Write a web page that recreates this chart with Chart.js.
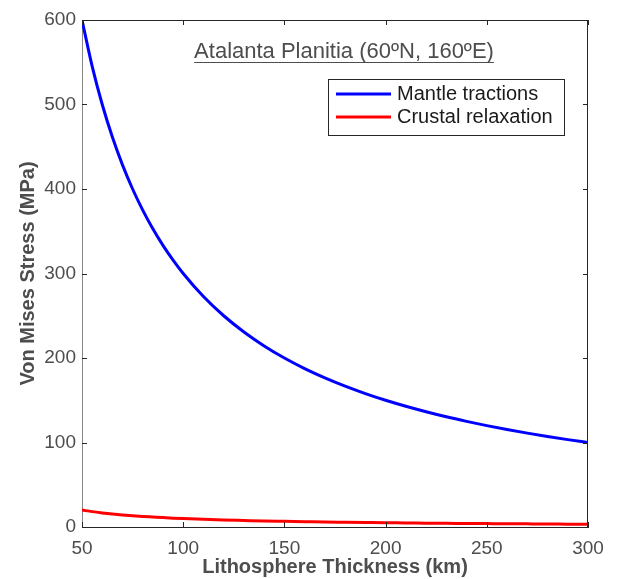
<!DOCTYPE html>
<html>
<head>
<meta charset="utf-8">
<script src="https://cdn.jsdelivr.net/npm/chart.js@4.4.0/dist/chart.umd.min.js"></script>
<style>
body { margin: 0; background: #fff; }
canvas { display: block; }
</style>
</head>
<body>
<canvas id="stress-chart" width="617" height="579"></canvas>
<script>
// values (km / MPa)
const thickness = [50, 55, 60, 65, 70, 75, 80, 85, 90, 95, 100, 110, 120, 130, 140, 150, 160, 170, 180, 190, 200, 210, 220, 230, 240, 250, 260, 270, 280, 290, 300];
const mantleStress = [600, 545.5, 500, 461.5, 428.6, 400, 375, 352.9, 333.3, 315.8, 300, 272.7, 250, 230.8, 214.3, 200, 187.5, 176.5, 166.7, 157.9, 150, 142.9, 136.4, 130.4, 125, 120, 115.4, 111.1, 107.1, 103.4, 100];
const crustalStress = [20, 18.2, 16.7, 15.4, 14.3, 13.3, 12.5, 11.8, 11.1, 10.5, 10, 9.1, 8.3, 7.7, 7.1, 6.7, 6.3, 5.9, 5.6, 5.3, 5, 4.8, 4.5, 4.3, 4.2, 4, 3.8, 3.7, 3.6, 3.4, 3.3];
const xTicks = [50, 100, 150, 200, 250, 300];
const yTicks = [0, 100, 200, 300, 400, 500, 600];
const seriesNames = ['Mantle tractions', 'Crustal relaxation'];
const seriesColors = ['#0000ff', '#ff0000'];
const plotTitle = 'Atalanta Planitia (60ºN, 160ºE)';

const fontFamily = 'Helvetica, "Liberation Sans", Arial, sans-serif';
const axisColor = '#262626';
const labelColor = '#4d4d4d';

//turns two arrays into the {x, y} points chart.js wants
function toPoints(xs, ys) {
    return xs.map((x, i) => ({ x: x, y: ys[i] }));
}

//draws the matlab style box, inward ticks, the underlined title and the boxed legend
const matlabBox = {
    id: 'matlabBox',
    afterDraw(chart) {
        const ctx = chart.ctx;
        const area = chart.chartArea;
        const xs = chart.scales.x;
        const ys = chart.scales.y;
        ctx.save();
        // top and right edges of the box
        ctx.strokeStyle = axisColor;
        ctx.lineWidth = 1;
        ctx.beginPath();
        ctx.moveTo(area.left, area.top + 0.5);
        ctx.lineTo(area.right, area.top + 0.5);
        ctx.moveTo(area.right - 0.5, area.top);
        ctx.lineTo(area.right - 0.5, area.bottom);
        ctx.stroke();
        // inward ticks on all four sides
        const len = 5;
        ctx.beginPath();
        xTicks.forEach(v => {
            const px = Math.round(xs.getPixelForValue(v)) + 0.5;
            ctx.moveTo(px, area.bottom);
            ctx.lineTo(px, area.bottom - len);
            ctx.moveTo(px, area.top);
            ctx.lineTo(px, area.top + len);
        });
        yTicks.forEach(v => {
            const py = Math.round(ys.getPixelForValue(v)) + 0.5;
            ctx.moveTo(area.left, py);
            ctx.lineTo(area.left + len, py);
            ctx.moveTo(area.right, py);
            ctx.lineTo(area.right - len, py);
        });
        ctx.stroke();

        // title inside the plot, underlined
        ctx.font = '22px ' + fontFamily;
        ctx.fillStyle = labelColor;
        ctx.textAlign = 'center';
        ctx.textBaseline = 'middle';
        const tx = 344, ty = 52;
        ctx.fillText(plotTitle, tx, ty);
        const tw = ctx.measureText(plotTitle).width;
        ctx.strokeStyle = labelColor;
        ctx.beginPath();
        ctx.moveTo(tx - tw / 2, ty + 10.5);
        ctx.lineTo(tx + tw / 2, ty + 10.5);
        ctx.stroke();

        // legend box
        const box = { left: 328, top: 79, width: 236, height: 56 };
        ctx.fillStyle = '#fff';
        ctx.fillRect(box.left, box.top, box.width, box.height);
        ctx.strokeStyle = axisColor;
        ctx.strokeRect(box.left + 0.5, box.top + 0.5, box.width, box.height);
        ctx.textAlign = 'left';
        ctx.font = '20px ' + fontFamily;
        chart.data.datasets.forEach((ds, i) => {
            const rowY = 94 + i * 23;
            ctx.strokeStyle = ds.borderColor;
            ctx.lineWidth = 3;
            ctx.beginPath();
            ctx.moveTo(336, rowY);
            ctx.lineTo(391, rowY);
            ctx.stroke();
            ctx.fillStyle = '#1a1a1a';
            ctx.fillText(ds.label, 397, rowY);
        });
        ctx.restore();
    }
};

const stressChart = new Chart(document.getElementById('stress-chart'), {
    type: 'line',
    data: {
        datasets: [{
            label: seriesNames[0],
            data: toPoints(thickness, mantleStress),
            borderColor: seriesColors[0],
            borderWidth: 3,
            pointRadius: 0,
            cubicInterpolationMode: 'monotone',
            fill: false
        }, {
            label: seriesNames[1],
            data: toPoints(thickness, crustalStress),
            borderColor: seriesColors[1],
            borderWidth: 3,
            pointRadius: 0,
            cubicInterpolationMode: 'monotone',
            fill: false
        }]
    },
    options: {
        responsive: false,
        animation: false,
        layout: { padding: { top: 20, right: 29, bottom: 0, left: 0 } },
        plugins: {
            legend: { display: false },
            tooltip: { enabled: false }
        },
        scales: {
            x: {
                type: 'linear',
                min: 50,
                max: 300,
                afterBuildTicks: scale => { scale.ticks = xTicks.map(v => ({ value: v })); },
                afterFit: scale => { scale.height = 52; },
                grid: { display: false, drawTicks: false },
                border: { display: true, color: axisColor, width: 1 },
                ticks: {
                    padding: 10,
                    maxRotation: 0,
                    color: labelColor,
                    font: { family: fontFamily, size: 19 }
                },
                title: {
                    display: true,
                    text: 'Lithosphere Thickness (km)',
                    color: labelColor,
                    padding: { top: 0, bottom: 0 },
                    font: { family: fontFamily, size: 20, weight: 'bold' }
                }
            },
            y: {
                type: 'linear',
                min: 0,
                max: 600,
                afterBuildTicks: scale => { scale.ticks = yTicks.map(v => ({ value: v })); },
                afterFit: scale => { scale.width = 82; },
                grid: { display: false, drawTicks: false },
                border: { display: true, color: '#888888', width: 1 },
                ticks: {
                    padding: 6,
                    color: labelColor,
                    font: { family: fontFamily, size: 19 }
                },
                title: {
                    display: true,
                    text: 'Von Mises Stress (MPa)',
                    color: labelColor,
                    padding: { top: 16, bottom: 0 },
                    font: { family: fontFamily, size: 20, weight: 'bold' }
                }
            }
        }
    },
    plugins: [matlabBox]
});
</script>
</body>
</html>
